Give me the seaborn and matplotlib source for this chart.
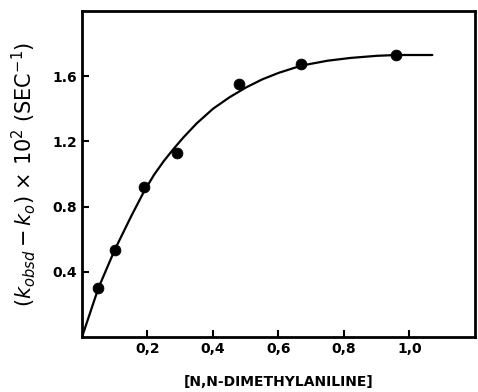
import numpy as np
import pandas as pd
import seaborn as sns
import matplotlib.pyplot as plt

# measured points
conc = [0.05, 0.10, 0.19, 0.29, 0.48, 0.67, 0.96]
rate = [0.30, 0.535, 0.92, 1.13, 1.55, 1.675, 1.73]

# smooth curve
curve_x = [0.0, 0.05, 0.10, 0.15, 0.19, 0.22, 0.25, 0.28, 0.31, 0.35, 0.40, 0.45, 0.50,
           0.55, 0.60, 0.67, 0.75, 0.82, 0.90, 0.96, 1.07]
curve_y = [0.0, 0.30, 0.535, 0.74, 0.895, 0.995, 1.08, 1.155, 1.225, 1.31, 1.40, 1.47, 1.53,
           1.58, 1.62, 1.665, 1.695, 1.712, 1.725, 1.73, 1.73]

x_ticks = [0.2, 0.4, 0.6, 0.8, 1.0]
x_labels = ["0,2", "0,4", "0,6", "0,8", "1,0"]
y_ticks = [0.4, 0.8, 1.2, 1.6]
y_labels = ["0.4", "0.8", "1.2", "1.6"]

sns.set_style("ticks")
plt.rcParams["font.family"] = ["DejaVu Sans"]
plt.rcParams["text.color"] = "black"
plt.rcParams["axes.labelcolor"] = "black"
plt.rcParams["xtick.color"] = "black"
plt.rcParams["ytick.color"] = "black"

pts = pd.DataFrame({"x": conc, "y": rate})
crv = pd.DataFrame({"x": curve_x, "y": curve_y})

fig = plt.figure(figsize=(4.78, 3.92), dpi=100)
ax = fig.add_axes([0.1715, 0.140, 0.822, 0.832])

sns.lineplot(data=crv, x="x", y="y", sort=False, color="black", linewidth=1.6, ax=ax)
sns.scatterplot(data=pts, x="x", y="y", color="black", s=60, edgecolor="black", zorder=3, ax=ax)

ax.set_xlim(0, 1.2)
ax.set_ylim(0, 2.0)
ax.set_xticks(x_ticks)
ax.set_xticklabels(x_labels, fontsize=10, fontweight="bold")
ax.set_yticks(y_ticks)
ax.set_yticklabels(y_labels, fontsize=10, fontweight="bold")
ax.tick_params(direction="in", length=5, width=1.5, colors="black")

for s in ax.spines.values():
    s.set_visible(True)
    s.set_linewidth(2)
    s.set_color("black")

ax.set_xlabel("[N,N-DIMETHYLANILINE]", fontsize=10, fontweight="bold", labelpad=14)
ax.set_ylabel(r"$(k_{obsd} - k_o)$ × 10$^2$ (SEC$^{-1}$)", fontsize=15, labelpad=10)

fig.savefig("out.png", dpi=100)
